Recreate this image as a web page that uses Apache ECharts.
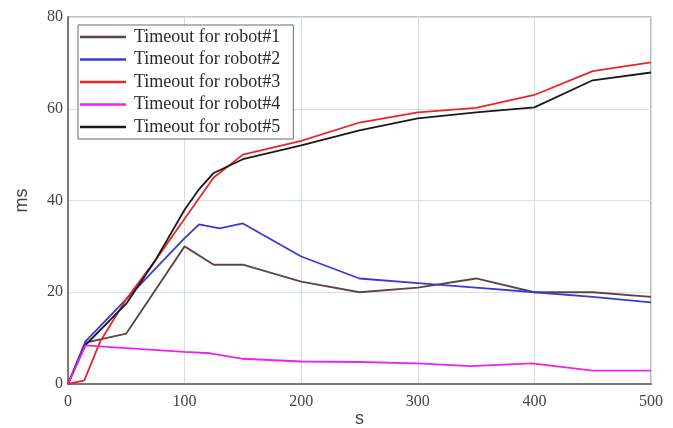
<!DOCTYPE html>
<html>
<head>
<meta charset="utf-8">
<script src="https://cdn.jsdelivr.net/npm/echarts@6/dist/echarts.min.js"></script>
<style>
  html, body { margin: 0; padding: 0; background: #fff; }
  #chart { width: 673px; height: 428px; }
</style>
</head>
<body>
<div id="chart"></div>
<script>
// Timeout (ms) per robot versus time (s), as [s, ms] pairs
const seriesNames = [
  'Timeout for robot#1',
  'Timeout for robot#2',
  'Timeout for robot#3',
  'Timeout for robot#4',
  'Timeout for robot#5'
];
const robot1 = [[0, 0], [15, 9], [50, 11], [100, 30], [125, 26], [150, 26], [200, 22.3], [250, 20], [300, 21], [350, 23], [400, 20], [450, 20], [500, 19]];
const robot2 = [[0, 0], [15, 9.3], [50, 18.5], [100, 31.8], [112.5, 34.8], [130, 33.9], [150, 35], [200, 27.8], [250, 23], [300, 22], [350, 21], [400, 20], [450, 19], [500, 17.8]];
const robot3 = [[0, 0], [14, 0.8], [27.5, 9.2], [50, 18.5], [75, 27], [100, 36], [125, 45], [150, 50], [200, 53], [250, 57], [300, 59.2], [350, 60.2], [400, 63], [450, 68.2], [500, 70.1]];
const robot4 = [[0, 0], [15, 8.4], [40, 8], [100, 7], [122, 6.7], [150, 5.5], [200, 4.9], [250, 4.8], [300, 4.5], [345, 3.9], [398, 4.5], [450, 2.9], [500, 2.9]];
const robot5 = [[0, 0], [15, 8.5], [50, 17.5], [75, 27], [100, 38], [112.5, 42.5], [125, 46], [150, 49], [200, 52], [250, 55.3], [300, 57.9], [350, 59.2], [400, 60.3], [450, 66.2], [500, 67.9]];
const seriesData = [robot1, robot2, robot3, robot4, robot5];
const seriesColors = ['#5e4444', '#3a3ad6', '#e8262a', '#ee22ee', '#1a1a1a'];

const xTicks = { min: 0, max: 500, interval: 100 };
const yTicks = { min: 0, max: 80, interval: 20 };

const serif = '"Liberation Serif", "DejaVu Serif", serif';
const sans = '"Liberation Sans", Arial, sans-serif';
const gridLineColor = '#d3e2da';

const chart = echarts.init(document.getElementById('chart'), null, { renderer: 'canvas' });
chart.setOption({
  animation: false,
  backgroundColor: '#ffffff',
  grid: {
    left: 68, right: 22, top: 17, bottom: 44,
    outerBoundsMode: 'none',
    containLabel: false,
    show: true, borderColor: '#8a8a8a', borderWidth: 1.2, backgroundColor: 'transparent'
  },
  legend: {
    orient: 'vertical',
    left: 78, top: 25,
    padding: [3, 13, 3, 2],
    icon: 'rect',
    itemWidth: 46, itemHeight: 2.5, itemGap: 4.5,
    borderColor: '#6a6a6a', borderWidth: 1, backgroundColor: '#ffffff',
    textStyle: { fontFamily: serif, fontSize: 18, color: '#2a2a2a', padding: [0, 0, 0, 3], lineHeight: 18 },
    data: seriesNames
  },
  xAxis: {
    type: 'value',
    min: xTicks.min, max: xTicks.max, interval: xTicks.interval,
    name: 's', nameLocation: 'middle', nameGap: 26,
    nameMoveOverlap: false,
    nameTextStyle: { fontFamily: sans, fontSize: 18, color: '#444' },
    axisLine: { show: true, lineStyle: { color: '#7a7a7a', width: 2 } },
    axisTick: { show: false },
    axisLabel: { fontFamily: serif, fontSize: 16, color: '#444', margin: 10 },
    splitLine: { show: true, lineStyle: { color: gridLineColor, width: 1 } }
  },
  yAxis: {
    type: 'value',
    min: yTicks.min, max: yTicks.max, interval: yTicks.interval,
    name: 'ms', nameLocation: 'middle', nameGap: 37,
    nameMoveOverlap: false,
    nameTextStyle: { fontFamily: sans, fontSize: 18, color: '#444' },
    axisLine: { show: true, lineStyle: { color: '#7a7a7a', width: 2 } },
    axisTick: { show: false },
    axisLabel: { fontFamily: serif, fontSize: 16, color: '#444', margin: 5 },
    splitLine: { show: true, lineStyle: { color: gridLineColor, width: 1 } }
  },
  series: seriesNames.map((name, i) => ({
    name: name,
    type: 'line',
    data: seriesData[i],
    symbol: 'none',
    showSymbol: false,
    lineStyle: { color: seriesColors[i], width: 1.8 },
    itemStyle: { color: seriesColors[i] },
    z: i === 3 ? 3 : 2
  }))
});
</script>
</body>
</html>
